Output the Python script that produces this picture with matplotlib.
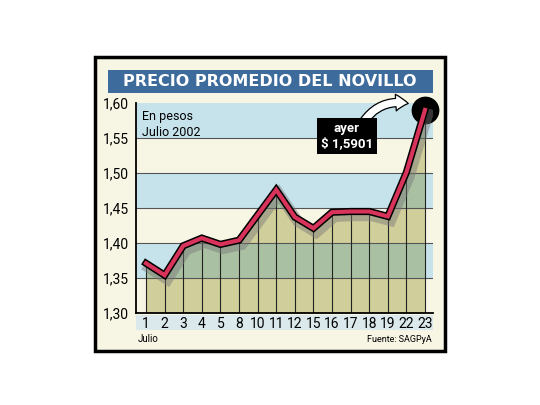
import matplotlib
matplotlib.use('Agg')
import matplotlib.pyplot as plt
import matplotlib.patheffects as pe
from matplotlib.patches import Rectangle, FancyArrowPatch
from matplotlib import font_manager
import numpy as np

# data
days = ['1', '2', '3', '4', '5', '8', '10', '11', '12', '15', '16', '17', '18', '19', '22', '23']
prices = [1.371, 1.354, 1.396, 1.407, 1.398, 1.404, 1.440, 1.476, 1.437, 1.421,
          1.444, 1.445, 1.445, 1.438, 1.501, 1.5901]
yticks = [1.30, 1.35, 1.40, 1.45, 1.50, 1.55, 1.60]

W, H = 540, 405
CREAM = '#f7f5e4'
BLUE = '#c6e3ec'
FILL_CREAM = '#d0ce9a'
FILL_BLUE = '#a9c1a2'
RED = '#d8335a'

names = {f.name for f in font_manager.fontManager.ttflist}
NARROW = ['Liberation Sans Narrow'] if 'Liberation Sans Narrow' in names else ['Roboto']
NARROW = NARROW + ['DejaVu Sans']


def fx(px):
    return px / W


def fy(py):
    return 1 - py / H


fig = plt.figure(figsize=(5.4, 4.05), dpi=100)
fig.patch.set_facecolor('white')

# outer frame
fig.patches.append(Rectangle((fx(95), fy(351)), fx(445) - fx(95), fy(57) - fy(351),
                             transform=fig.transFigure, facecolor=CREAM,
                             edgecolor='black', linewidth=2.5, zorder=-3))
# title bar
fig.patches.append(Rectangle((fx(108), fy(93)), fx(433) - fx(108), fy(70) - fy(93),
                             transform=fig.transFigure, facecolor='#3c6b9c',
                             edgecolor='none', zorder=-2))
fig.text(fx(270), fy(82), 'PRECIO PROMEDIO DEL NOVILLO', color='white',
         fontsize=11.5, fontweight='bold', ha='center', va='center', zorder=2)

# x label strip
fig.patches.append(Rectangle((fx(136), fy(330)), fx(433) - fx(136), fy(315) - fy(330),
                             transform=fig.transFigure, facecolor='#dbe9ec',
                             edgecolor='none', zorder=-2))

ax = fig.add_axes([fx(136), fy(313), fx(433) - fx(136), fy(103) - fy(313)], zorder=1)
ax.set_facecolor(CREAM)
x = np.arange(len(days))
ax.set_xlim(-0.54, len(days) - 1 + 0.43)
ax.set_ylim(1.30, 1.60)

# bands
for i in range(6):
    lo = 1.30 + 0.05 * i
    color = BLUE if i % 2 == 1 else CREAM
    ax.axhspan(lo, lo + 0.05, color=color, zorder=0, lw=0)
    band = Rectangle((-1, lo), 30, 0.05, transform=ax.transData)
    fill = ax.fill_between(x, prices, 1.30, color=FILL_BLUE if i % 2 == 1 else FILL_CREAM,
                           lw=0, zorder=1)
    fill.set_clip_path(band)

for yv in yticks[1:-1]:
    ax.axhline(yv, color='#555555', lw=0.8, zorder=1.5)

# vertical lines at each point
ax.vlines(x, 1.30, prices, color='#222222', lw=0.8, zorder=2)

# circle at last point
ax.plot(x[-1], prices[-1], 'o', color='black', markersize=19, zorder=3, clip_on=False)

# red line with outline and shadow
ax.plot(x, prices, color=RED, lw=3.0, zorder=4, solid_joinstyle='miter',
        path_effects=[pe.SimpleLineShadow(offset=(2, -3), shadow_color='#777777',
                                          alpha=0.45, linewidth=8),
                      pe.Stroke(linewidth=5.2, foreground='black'),
                      pe.Normal()])

for s in ['top', 'right']:
    ax.spines[s].set_visible(False)
ax.spines['left'].set_linewidth(1.3)
ax.spines['bottom'].set_linewidth(1.3)
ax.set_yticks(yticks)
ax.set_yticklabels([f'{v:.2f}'.replace('.', ',') for v in yticks], fontsize=10,
                   family=NARROW)
ax.set_xticks(x)
ax.set_xticklabels(days, fontsize=10, family=NARROW)
ax.tick_params(length=0, pad=3)
ax.tick_params(axis='y', pad=5)

ax.text(0.02, 0.965, 'En pesos\nJulio 2002', transform=ax.transAxes, fontsize=9,
        va='top', ha='left', linespacing=1.25, zorder=5, family=NARROW)

# annotation box
fig.text(fx(347), fy(136), 'ayer\n$ 1,5901', color='white', fontsize=9.5,
         fontweight='bold', ha='center', va='center', linespacing=1.25, zorder=6,
         family=NARROW,
         bbox=dict(boxstyle='square,pad=0.3', facecolor='black', edgecolor='none'))
arrow = FancyArrowPatch((fx(362), fy(124)), (fx(411), fy(104)),
                        transform=fig.transFigure, connectionstyle='arc3,rad=-0.35',
                        arrowstyle='simple,head_width=12,head_length=9,tail_width=6',
                        facecolor='white', edgecolor='black', lw=0.9, zorder=5.5)
fig.patches.append(arrow)

fig.text(fx(138), fy(339), 'Julio', fontsize=7, ha='left', va='center', family=NARROW)
fig.text(fx(432), fy(339), 'Fuente: SAGPyA', fontsize=6.5, ha='right', va='center',
         family=NARROW)

fig.savefig('out.png', dpi=100)
